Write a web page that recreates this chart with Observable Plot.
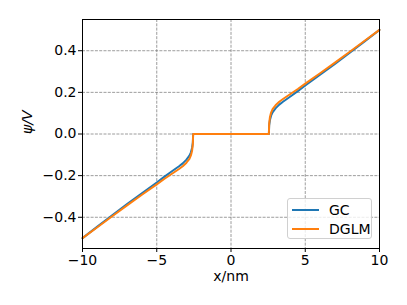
<!DOCTYPE html>
<html>
<head>
<meta charset="utf-8">
<script src="https://cdn.jsdelivr.net/npm/d3@7"></script>
<script src="https://cdn.jsdelivr.net/npm/@observablehq/plot@0.6"></script>
<style>
  html, body { margin: 0; padding: 0; background: #fff; }
  #wrap { position: relative; width: 407px; height: 305px; font-family: "DejaVu Sans", sans-serif; }
  #legend { position: absolute; left: 287px; top: 198px; width: 85px; height: 41px;
    border: 1px solid #d0d0d0; border-radius: 3px; background: rgba(255,255,255,0.8); box-sizing: border-box; }
  .item { position: absolute; left: 4px; height: 16px; display: flex; align-items: center; font-size: 14px; color: #000; }
  .swatch { width: 27px; height: 2px; margin-right: 10px; }
</style>
</head>
<body>
<div id="wrap"></div>
<script>
// Data
const xs = [-10, -9, -8, -7, -6, -5, -4.5, -4, -3.5, -3.25, -3, -2.8, -2.7, -2.62, -2.57, -2.55,
            2.55, 2.57, 2.62, 2.7, 2.8, 3, 3.25, 3.5, 4, 4.5, 5, 6, 7, 8, 9, 10];
const gc = [-0.5, -0.445, -0.39, -0.337, -0.285, -0.233, -0.206, -0.18, -0.155, -0.141, -0.123, -0.104, -0.088, -0.066, -0.04, 0,
            0, 0.04, 0.066, 0.088, 0.104, 0.123, 0.141, 0.155, 0.18, 0.206, 0.233, 0.285, 0.337, 0.39, 0.445, 0.5];
const dglm = [-0.5, -0.448, -0.395, -0.343, -0.292, -0.242, -0.216, -0.192, -0.168, -0.155, -0.138, -0.12, -0.103, -0.08, -0.05, 0,
              0, 0.05, 0.08, 0.103, 0.12, 0.138, 0.155, 0.168, 0.192, 0.216, 0.242, 0.292, 0.343, 0.395, 0.448, 0.5];
const seriesNames = ["GC", "DGLM"];
const seriesColors = ["#1f77b4", "#ff7f0e"];
const xTicks = [-10, -5, 0, 5, 10];
const yTicks = [-0.4, -0.2, 0.0, 0.2, 0.4];

const rows = [];
xs.forEach((x, i) => {
  rows.push({x, y: gc[i], s: seriesNames[0]});
});
xs.forEach((x, i) => {
  rows.push({x, y: dglm[i], s: seriesNames[1]});
});

const font = "DejaVu Sans, sans-serif";
const chart = Plot.plot({
  width: 407,
  height: 305,
  marginLeft: 82,
  marginRight: 28,
  marginTop: 19,
  marginBottom: 57,
  style: {fontFamily: font, fontSize: "14px", color: "#000", background: "#fff", overflow: "visible"},
  x: {domain: [-10, 10]},
  y: {domain: [-0.55, 0.55]},
  color: {domain: seriesNames, range: seriesColors},
  marks: [
    Plot.gridX(xTicks, {stroke: "#777", strokeOpacity: 0.9, strokeWidth: 0.8, strokeDasharray: "3,1.3"}),
    Plot.gridY(yTicks, {stroke: "#777", strokeOpacity: 0.9, strokeWidth: 0.8, strokeDasharray: "3,1.3"}),
    Plot.line(rows.filter(d => d.s === "GC"), {x: "x", y: "y", stroke: "s", strokeWidth: 2, curve: "linear"}),
    Plot.line(rows.filter(d => d.s === "DGLM"), {x: "x", y: "y", stroke: "s", strokeWidth: 2, curve: "linear"}),
    Plot.frame({stroke: "#000", strokeWidth: 1}),
    Plot.axisX(xTicks, {tickSize: 4, tickPadding: 3, fontSize: 14, label: null, tickFormat: d3.format("d")}),
    Plot.axisY(yTicks, {tickSize: 4, tickPadding: 2, fontSize: 14, label: null, tickFormat: d3.format(".1f")}),
    Plot.text(["x/nm"], {frameAnchor: "bottom", dy: 32, fontSize: 14, text: d => d}),
    Plot.text(["ψ/V"], {frameAnchor: "left", dx: -55, rotate: -90, fontSize: 14, fontStyle: "italic", text: d => d})
  ]
});
const wrap = document.getElementById("wrap");
wrap.appendChild(chart);

const legend = document.createElement("div");
legend.id = "legend";
seriesNames.forEach((name, i) => {
  const item = document.createElement("div");
  item.className = "item";
  item.style.top = (3 + i * 19) + "px";
  const sw = document.createElement("div");
  sw.className = "swatch";
  sw.style.background = seriesColors[i];
  const label = document.createElement("span");
  label.textContent = name;
  item.appendChild(sw);
  item.appendChild(label);
  legend.appendChild(item);
});
wrap.appendChild(legend);
</script>
</body>
</html>
